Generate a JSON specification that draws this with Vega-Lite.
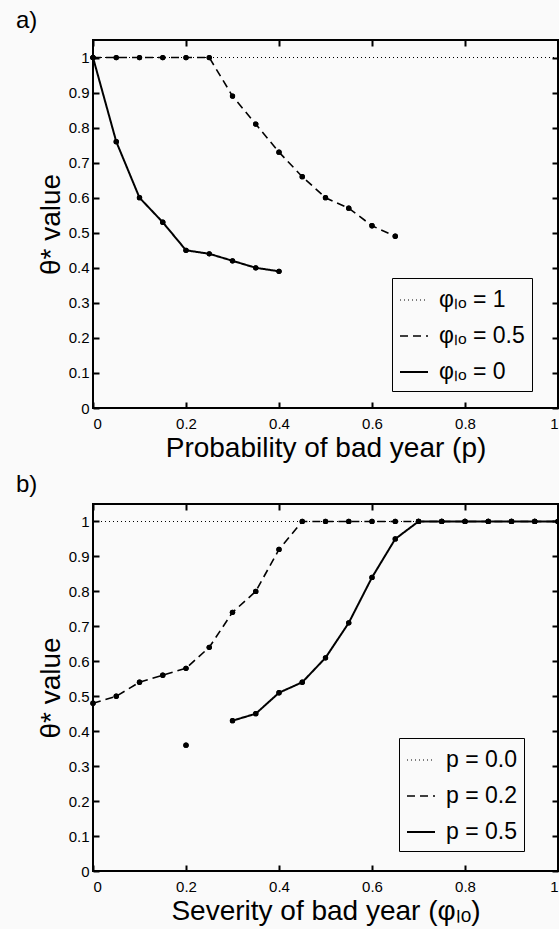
{
  "$schema": "https://vega.github.io/schema/vega-lite/v6.json",
  "background": "#fafafa",
  "padding": {"top": 8, "left": 15, "right": 2, "bottom": 3},
  "spacing": 9,
  "config": {
    "font": "Liberation Sans",
    "view": {"stroke": "black", "strokeWidth": 2, "fill": null},
    "axis": {
      "domain": false,
      "grid": false,
      "tickColor": "black",
      "tickWidth": 2,
      "tickSize": 6,
      "labelColor": "black",
      "labelFontSize": 15,
      "labelFont": "Liberation Sans",
      "titleFont": "Liberation Sans",
      "titleFontSize": 28,
      "titleFontWeight": "normal",
      "titleColor": "black",
      "titlePadding": 3
    },
    "axisX": {"labelPadding": 8},
    "axisY": {"labelPadding": 4},
    "legend": {
      "orient": "none",
      "strokeColor": "black",
      "strokeWidth": 1,
      "fillColor": "#fafafa",
      "padding": 7,
      "symbolType": "stroke",
      "symbolSize": 784,
      "symbolStrokeColor": "black",
      "labelFont": "Liberation Sans",
      "labelFontSize": 23,
      "labelColor": "black",
      "labelOffset": 10,
      "rowPadding": 9,
      "titlePadding": 0
    },
    "title": {"font": "Liberation Sans", "fontSize": 24, "fontWeight": "normal", "color": "black", "anchor": "start", "frame": "group", "offset": 6}
  },
  "datasets": {
    "panelA": [
      {"p": 0, "theta": 1, "series": "φₗₒ = 1", "seg": "a"},
      {"p": 1, "theta": 1, "series": "φₗₒ = 1", "seg": "a"},
      {"p": 0, "theta": 1, "series": "φₗₒ = 0.5", "seg": "a"},
      {"p": 0.05, "theta": 1, "series": "φₗₒ = 0.5", "seg": "a"},
      {"p": 0.1, "theta": 1, "series": "φₗₒ = 0.5", "seg": "a"},
      {"p": 0.15, "theta": 1, "series": "φₗₒ = 0.5", "seg": "a"},
      {"p": 0.2, "theta": 1, "series": "φₗₒ = 0.5", "seg": "a"},
      {"p": 0.25, "theta": 1, "series": "φₗₒ = 0.5", "seg": "a"},
      {"p": 0.3, "theta": 0.89, "series": "φₗₒ = 0.5", "seg": "a"},
      {"p": 0.35, "theta": 0.81, "series": "φₗₒ = 0.5", "seg": "a"},
      {"p": 0.4, "theta": 0.73, "series": "φₗₒ = 0.5", "seg": "a"},
      {"p": 0.45, "theta": 0.66, "series": "φₗₒ = 0.5", "seg": "a"},
      {"p": 0.5, "theta": 0.6, "series": "φₗₒ = 0.5", "seg": "a"},
      {"p": 0.55, "theta": 0.57, "series": "φₗₒ = 0.5", "seg": "a"},
      {"p": 0.6, "theta": 0.52, "series": "φₗₒ = 0.5", "seg": "a"},
      {"p": 0.65, "theta": 0.49, "series": "φₗₒ = 0.5", "seg": "a"},
      {"p": 0, "theta": 1, "series": "φₗₒ = 0", "seg": "a"},
      {"p": 0.05, "theta": 0.76, "series": "φₗₒ = 0", "seg": "a"},
      {"p": 0.1, "theta": 0.6, "series": "φₗₒ = 0", "seg": "a"},
      {"p": 0.15, "theta": 0.53, "series": "φₗₒ = 0", "seg": "a"},
      {"p": 0.2, "theta": 0.45, "series": "φₗₒ = 0", "seg": "a"},
      {"p": 0.25, "theta": 0.44, "series": "φₗₒ = 0", "seg": "a"},
      {"p": 0.3, "theta": 0.42, "series": "φₗₒ = 0", "seg": "a"},
      {"p": 0.35, "theta": 0.4, "series": "φₗₒ = 0", "seg": "a"},
      {"p": 0.4, "theta": 0.39, "series": "φₗₒ = 0", "seg": "a"}
    ],
    "panelB": [
      {"phi": 0, "theta": 1, "series": "p = 0.0", "seg": "a"},
      {"phi": 1, "theta": 1, "series": "p = 0.0", "seg": "a"},
      {"phi": 0, "theta": 0.48, "series": "p = 0.2", "seg": "a"},
      {"phi": 0.05, "theta": 0.5, "series": "p = 0.2", "seg": "a"},
      {"phi": 0.1, "theta": 0.54, "series": "p = 0.2", "seg": "a"},
      {"phi": 0.15, "theta": 0.56, "series": "p = 0.2", "seg": "a"},
      {"phi": 0.2, "theta": 0.58, "series": "p = 0.2", "seg": "a"},
      {"phi": 0.25, "theta": 0.64, "series": "p = 0.2", "seg": "a"},
      {"phi": 0.3, "theta": 0.74, "series": "p = 0.2", "seg": "a"},
      {"phi": 0.35, "theta": 0.8, "series": "p = 0.2", "seg": "a"},
      {"phi": 0.4, "theta": 0.92, "series": "p = 0.2", "seg": "a"},
      {"phi": 0.45, "theta": 1, "series": "p = 0.2", "seg": "a"},
      {"phi": 0.5, "theta": 1, "series": "p = 0.2", "seg": "a"},
      {"phi": 0.55, "theta": 1, "series": "p = 0.2", "seg": "a"},
      {"phi": 0.6, "theta": 1, "series": "p = 0.2", "seg": "a"},
      {"phi": 0.65, "theta": 1, "series": "p = 0.2", "seg": "a"},
      {"phi": 0.7, "theta": 1, "series": "p = 0.2", "seg": "a"},
      {"phi": 0.75, "theta": 1, "series": "p = 0.2", "seg": "a"},
      {"phi": 0.8, "theta": 1, "series": "p = 0.2", "seg": "a"},
      {"phi": 0.85, "theta": 1, "series": "p = 0.2", "seg": "a"},
      {"phi": 0.9, "theta": 1, "series": "p = 0.2", "seg": "a"},
      {"phi": 0.95, "theta": 1, "series": "p = 0.2", "seg": "a"},
      {"phi": 1, "theta": 1, "series": "p = 0.2", "seg": "a"},
      {"phi": 0.2, "theta": 0.36, "series": "p = 0.5", "seg": "a"},
      {"phi": 0.3, "theta": 0.43, "series": "p = 0.5", "seg": "b"},
      {"phi": 0.35, "theta": 0.45, "series": "p = 0.5", "seg": "b"},
      {"phi": 0.4, "theta": 0.51, "series": "p = 0.5", "seg": "b"},
      {"phi": 0.45, "theta": 0.54, "series": "p = 0.5", "seg": "b"},
      {"phi": 0.5, "theta": 0.61, "series": "p = 0.5", "seg": "b"},
      {"phi": 0.55, "theta": 0.71, "series": "p = 0.5", "seg": "b"},
      {"phi": 0.6, "theta": 0.84, "series": "p = 0.5", "seg": "b"},
      {"phi": 0.65, "theta": 0.95, "series": "p = 0.5", "seg": "b"},
      {"phi": 0.7, "theta": 1, "series": "p = 0.5", "seg": "b"},
      {"phi": 0.75, "theta": 1, "series": "p = 0.5", "seg": "b"},
      {"phi": 0.8, "theta": 1, "series": "p = 0.5", "seg": "b"},
      {"phi": 0.85, "theta": 1, "series": "p = 0.5", "seg": "b"},
      {"phi": 0.9, "theta": 1, "series": "p = 0.5", "seg": "b"},
      {"phi": 0.95, "theta": 1, "series": "p = 0.5", "seg": "b"},
      {"phi": 1, "theta": 1, "series": "p = 0.5", "seg": "b"}
    ]
  },
  "vconcat": [
    {
      "title": {"text": "a)", "dx": -77},
      "width": 465,
      "height": 368,
      "data": {"name": "panelA"},
      "resolve": {"axis": {"x": "independent", "y": "independent"}},
      "layer": [
        {
          "mark": {"type": "line", "color": "black"},
          "encoding": {
            "x": {"field": "p", "type": "quantitative", "scale": {"domain": [0, 1], "nice": false},
                  "axis": {"orient": "bottom", "ticks": false, "title": "Probability of bad year (p)", "values": [0, 0.2, 0.4, 0.6, 0.8, 1], "format": "~g"}},
            "y": {"field": "theta", "type": "quantitative", "scale": {"domain": [0, 1.05], "nice": false, "zero": false},
                  "axis": {"orient": "left", "ticks": false, "title": "θ* value", "values": [0, 0.1, 0.2, 0.3, 0.4, 0.5, 0.6, 0.7, 0.8, 0.9, 1], "format": "~g"}},
            "strokeDash": {"field": "series", "type": "nominal",
                  "scale": {"domain": ["φₗₒ = 1", "φₗₒ = 0.5", "φₗₒ = 0"], "range": [[1, 3], [8, 5], [1, 0]]},
                  "legend": {"title": null, "legendX": 299, "legendY": 238}},
            "strokeWidth": {"field": "series", "type": "nominal",
                  "scale": {"domain": ["φₗₒ = 1", "φₗₒ = 0.5", "φₗₒ = 0"], "range": [1.2, 2, 2]},
                  "legend": {"title": null, "legendX": 299, "legendY": 238}},
            "detail": {"field": "seg"}
          }
        },
        {
          "transform": [{"filter": "datum.series != 'φₗₒ = 1'"}],
          "mark": {"type": "point", "filled": true, "color": "black", "opacity": 1, "size": 28},
          "encoding": {
            "x": {"field": "p", "type": "quantitative", "scale": {"domain": [0, 1], "nice": false},
                  "axis": {"orient": "top", "offset": -6, "title": null, "labels": false, "values": [0, 0.2, 0.4, 0.6, 0.8, 1]}},
            "y": {"field": "theta", "type": "quantitative", "scale": {"domain": [0, 1.05], "nice": false, "zero": false},
                  "axis": {"orient": "right", "offset": -6, "title": null, "labels": false, "values": [0, 0.1, 0.2, 0.3, 0.4, 0.5, 0.6, 0.7, 0.8, 0.9, 1]}}
          }
        },
        {
          "transform": [{"filter": "datum.series != 'φₗₒ = 1'"}],
          "mark": {"type": "point", "filled": true, "color": "black", "opacity": 1, "size": 28},
          "encoding": {
            "x": {"field": "p", "type": "quantitative", "scale": {"domain": [0, 1], "nice": false},
                  "axis": {"orient": "bottom", "offset": -6, "title": null, "labels": false, "values": [0, 0.2, 0.4, 0.6, 0.8, 1]}},
            "y": {"field": "theta", "type": "quantitative", "scale": {"domain": [0, 1.05], "nice": false, "zero": false},
                  "axis": {"orient": "left", "offset": -6, "title": null, "labels": false, "values": [0, 0.1, 0.2, 0.3, 0.4, 0.5, 0.6, 0.7, 0.8, 0.9, 1]}}
          }
        }
      ]
    },
    {
      "title": {"text": "b)", "dx": -77},
      "width": 465,
      "height": 367,
      "data": {"name": "panelB"},
      "resolve": {"axis": {"x": "independent", "y": "independent"}},
      "layer": [
        {
          "mark": {"type": "line", "color": "black"},
          "encoding": {
            "x": {"field": "phi", "type": "quantitative", "scale": {"domain": [0, 1], "nice": false},
                  "axis": {"orient": "bottom", "ticks": false, "title": "Severity of bad year (φₗₒ)", "values": [0, 0.2, 0.4, 0.6, 0.8, 1], "format": "~g"}},
            "y": {"field": "theta", "type": "quantitative", "scale": {"domain": [0, 1.05], "nice": false, "zero": false},
                  "axis": {"orient": "left", "ticks": false, "title": "θ* value", "values": [0, 0.1, 0.2, 0.3, 0.4, 0.5, 0.6, 0.7, 0.8, 0.9, 1], "format": "~g"}},
            "strokeDash": {"field": "series", "type": "nominal",
                  "scale": {"domain": ["p = 0.0", "p = 0.2", "p = 0.5"], "range": [[1, 3], [8, 5], [1, 0]]},
                  "legend": {"title": null, "legendX": 306, "legendY": 234}},
            "strokeWidth": {"field": "series", "type": "nominal",
                  "scale": {"domain": ["p = 0.0", "p = 0.2", "p = 0.5"], "range": [1.2, 2, 2]},
                  "legend": {"title": null, "legendX": 306, "legendY": 234}},
            "detail": {"field": "seg"}
          }
        },
        {
          "transform": [{"filter": "datum.series != 'p = 0.0'"}],
          "mark": {"type": "point", "filled": true, "color": "black", "opacity": 1, "size": 28},
          "encoding": {
            "x": {"field": "phi", "type": "quantitative", "scale": {"domain": [0, 1], "nice": false},
                  "axis": {"orient": "top", "offset": -6, "title": null, "labels": false, "values": [0, 0.2, 0.4, 0.6, 0.8, 1]}},
            "y": {"field": "theta", "type": "quantitative", "scale": {"domain": [0, 1.05], "nice": false, "zero": false},
                  "axis": {"orient": "right", "offset": -6, "title": null, "labels": false, "values": [0, 0.1, 0.2, 0.3, 0.4, 0.5, 0.6, 0.7, 0.8, 0.9, 1]}}
          }
        },
        {
          "transform": [{"filter": "datum.series != 'p = 0.0'"}],
          "mark": {"type": "point", "filled": true, "color": "black", "opacity": 1, "size": 28},
          "encoding": {
            "x": {"field": "phi", "type": "quantitative", "scale": {"domain": [0, 1], "nice": false},
                  "axis": {"orient": "bottom", "offset": -6, "title": null, "labels": false, "values": [0, 0.2, 0.4, 0.6, 0.8, 1]}},
            "y": {"field": "theta", "type": "quantitative", "scale": {"domain": [0, 1.05], "nice": false, "zero": false},
                  "axis": {"orient": "left", "offset": -6, "title": null, "labels": false, "values": [0, 0.1, 0.2, 0.3, 0.4, 0.5, 0.6, 0.7, 0.8, 0.9, 1]}}
          }
        }
      ]
    }
  ],
  "resolve": {"scale": {"strokeDash": "independent", "strokeWidth": "independent"}}
}
